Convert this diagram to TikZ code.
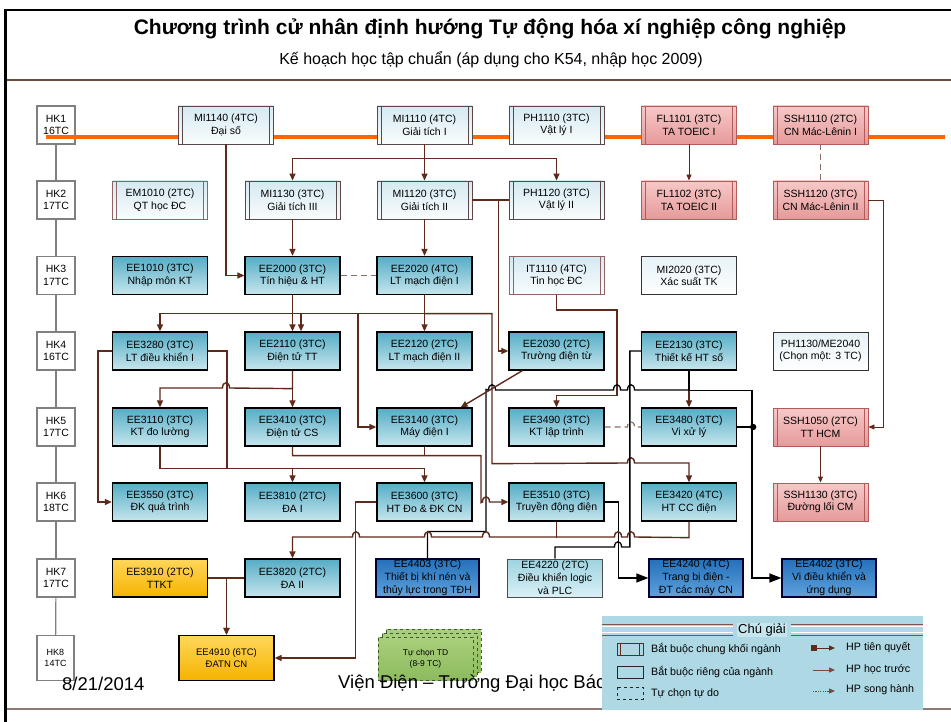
\documentclass[tikz,border=0pt]{standalone}
\usepackage{fontspec}
\setmainfont{Liberation Sans}
\usetikzlibrary{arrows.meta}

\definecolor{conn}{HTML}{5E2A1C}
\definecolor{hkgray}{HTML}{808080}
\definecolor{tline}{HTML}{FF6600}
\definecolor{genline}{HTML}{5A4848}
\definecolor{genline2}{HTML}{8E6464}
\definecolor{gentop}{HTML}{D5E9F1}
\definecolor{genbot}{HTML}{F9FCFD}
\definecolor{redline}{HTML}{B35A5A}
\definecolor{redtop}{HTML}{F7C8C8}
\definecolor{redbot}{HTML}{E69A9A}
\definecolor{eetop}{HTML}{55ADC5}
\definecolor{eebot}{HTML}{C7E6EE}
\definecolor{bluetop}{HTML}{2470BA}
\definecolor{bluebot}{HTML}{5FA2DD}
\definecolor{lighttop}{HTML}{9ED3E0}
\definecolor{lightbot}{HTML}{D9F0F5}
\definecolor{yeltop}{HTML}{FFD75A}
\definecolor{yelbot}{HTML}{F6B300}
\definecolor{grntop}{HTML}{A9CF7C}
\definecolor{grnbot}{HTML}{8DBB5E}
\definecolor{grnline}{HTML}{3C5A28}
\definecolor{legfill}{HTML}{ADD8E4}
\definecolor{legtitle}{HTML}{C6E6EE}
\definecolor{headline}{HTML}{6B4A3F}
\definecolor{footline}{HTML}{8C7B75}
\definecolor{dashline}{HTML}{8C6E66}

% small arch where a horizontal line hops over a vertical one
\newcommand\jumpR[2]{-- ({#1-3.5},#2) .. controls ({#1-3.5},{#2-7}) and ({#1+3.5},{#2-7}) .. ({#1+3.5},#2)}
\newcommand\jumpL[2]{-- ({#1+3.5},#2) .. controls ({#1+3.5},{#2-7}) and ({#1-3.5},{#2-7}) .. ({#1-3.5},#2)}

\tikzset{
  crsbase/.style={minimum width=95pt, minimum height=38pt, inner sep=0pt, align=center,
    font=\fontsize{10.5}{12.5}\selectfont},
  genbox/.style={crsbase, draw=#1, line width=0.9pt, top color=gentop, bottom color=genbot,
    path picture={\draw[#1, line width=0.7pt]
      ([xshift=4pt]path picture bounding box.north west) -- ([xshift=4pt]path picture bounding box.south west)
      ([xshift=-4pt]path picture bounding box.north east) -- ([xshift=-4pt]path picture bounding box.south east);}},
  genbox/.default=genline,
  redbox/.style={genbox=redline, top color=redtop, bottom color=redbot},
  plainbox/.style={crsbase, draw=black!80, line width=0.9pt, top color=gentop!60, bottom color=white},
  eebox/.style={crsbase, draw=black, line width=1.3pt, top color=eetop, bottom color=eebot},
  bluebox/.style={crsbase, draw=black!80!blue, line width=1.2pt, top color=bluetop, bottom color=bluebot,
    font=\fontsize{10.5}{13}\selectfont},
  litebox/.style={crsbase, draw=black!70, line width=0.9pt, top color=lighttop, bottom color=lightbot,
    font=\fontsize{10.5}{13}\selectfont},
  yelbox/.style={crsbase, draw=black, line width=1.3pt, top color=yeltop, bottom color=yelbot},
  tdbox/.style={crsbase, draw=grnline, dashed, line width=1pt, top color=grntop, bottom color=grnbot,
    minimum height=43pt, font=\fontsize{8.5}{11}\selectfont},
  hkbox/.style={minimum width=38pt, minimum height=38pt, inner sep=0pt, align=center, draw=hkgray,
    line width=1.1pt, fill=white, font=\fontsize{10.5}{12.5}\selectfont},
  lnk/.style={draw=conn, line width=1.4pt},
  lnkarr/.style={lnk, -{Triangle[length=7pt,width=6pt]}},
  lnkthin/.style={draw=conn, line width=0.9pt, -{Triangle[length=6pt,width=5pt]}},
  dashlnk/.style={draw=dashline, line width=1.2pt, dash pattern=on 6pt off 4pt},
  blkln/.style={draw=black, line width=1.3pt},
  bigarrow/.style={-{Triangle[length=12pt,width=9pt]}},
  legtxt/.style={anchor=west, font=\fontsize{10.7}{12}\selectfont, inner sep=0pt},
}

\begin{document}
\begin{tikzpicture}[x=1pt,y=-1pt]
\useasboundingbox (0,0) rectangle (951,722);
\fill[white] (0,0) rectangle (951,722);

% slide frame
\draw[black, line width=2.5pt] (4,10) -- (951,10);
\draw[black, line width=3pt] (5.5,8.75) -- (5.5,722);
\draw[headline, line width=2pt] (7,80) -- (951,80);
\draw[footline, line width=1.5pt] (7,709) -- (951,709);

% heading
\node[font=\fontsize{21}{24}\selectfont\bfseries] (title) at (490,29)
  {Chương trình cử nhân định hướng Tự động hóa xí nghiệp công nghiệp};
\node[font=\fontsize{16}{18}\selectfont] (subtitle) at (491,60)
  {Kế hoạch học tập chuẩn (áp dụng cho K54, nhập học 2009)};

% semester column
\foreach \i/\y/\c in {1/125/16,2/200/17,3/275.5/17,4/351/16,5/427/17,6/502/18,7/578/17}
  \node[hkbox] (hk\i) at (56,\y) {HK\i\\\c TC};
\node[hkbox, minimum width=37pt, minimum height=45pt, font=\fontsize{9}{11}\selectfont] (hk8) at (55.5,658) {HK8\\14TC};
\foreach \a/\b in {1/2,2/3,3/4,4/5,5/6,6/7,7/8}
  \draw[hkgray, line width=1.2pt] (hk\a) -- (hk\b);

% first-semester timeline
\coordinate (tl0) at (46,137);
\coordinate (tl1) at (945,137);
\draw[tline, line width=4.5pt] (tl0) -- (tl1);

% semester 1
\node[genbox] (mi1140) at (226,125) {MI1140 (4TC)\\Đại số};
\node[genbox] (mi1110) at (424.5,125) {MI1110 (4TC)\\Giải tích I};
\node[genbox] (ph1110) at (556.5,125) {PH1110 (3TC)\\Vật lý I};
\node[redbox] (fl1101) at (689,125) {FL1101 (3TC)\\TA TOEIC I};
\node[redbox] (ssh1110) at (820.5,125) {SSH1110 (2TC)\\CN Mác-Lênin I};
% semester 2
\node[genbox=genline2] (em1010) at (160,200) {EM1010 (2TC)\\QT học ĐC};
\node[genbox] (mi1130) at (292.5,200) {MI1130 (3TC)\\Giải tích III};
\node[genbox] (mi1120) at (424.5,200) {MI1120 (3TC)\\Giải tích II};
\node[genbox] (ph1120) at (556.5,200) {PH1120 (3TC)\\Vật lý II};
\node[redbox] (fl1102) at (689,200) {FL1102 (3TC)\\TA TOEIC II};
\node[redbox] (ssh1120) at (820.5,200) {SSH1120 (3TC)\\CN Mác-Lênin II};
% semester 3
\node[eebox] (ee1010) at (160,275.5) {EE1010 (3TC)\\Nhập môn KT};
\node[eebox] (ee2000) at (292.5,275.5) {EE2000 (3TC)\\Tín hiệu \& HT};
\node[eebox] (ee2020) at (424.5,275.5) {EE2020 (4TC)\\LT mạch điện I};
\node[genbox=genline2] (it1110) at (556.5,275.5) {IT1110 (4TC)\\Tin học ĐC};
\node[plainbox] (mi2020) at (689,275.5) {MI2020 (3TC)\\Xác suất TK};
% semester 4
\node[eebox] (ee3280) at (160,351) {EE3280 (3TC)\\LT điều khiển I};
\node[eebox] (ee2110) at (292.5,351) {EE2110 (3TC)\\Điện tử TT};
\node[eebox] (ee2120) at (424.5,351) {EE2120 (2TC)\\LT mạch điện II};
\node[eebox] (ee2030) at (556.5,351) {EE2030 (2TC)\\Trường điện từ};
\node[eebox] (ee2130) at (689,351) {EE2130 (3TC)\\Thiết kế HT số};
\node[plainbox] (ph1130) at (820.5,351) {PH1130/ME2040\\(Chọn một: 3 TC)};
% semester 5
\node[eebox] (ee3110) at (160,427) {EE3110 (3TC)\\KT đo lường};
\node[eebox] (ee3410) at (292.5,427) {EE3410 (3TC)\\Điện tử CS};
\node[eebox] (ee3140) at (424.5,427) {EE3140 (3TC)\\Máy điện I};
\node[eebox] (ee3490) at (556.5,427) {EE3490 (3TC)\\KT lập trình};
\node[eebox] (ee3480) at (689,427) {EE3480 (3TC)\\Vi xử lý};
\node[redbox] (ssh1050) at (820.5,427) {SSH1050 (2TC)\\TT HCM};
% semester 6
\node[eebox] (ee3550) at (160,502) {EE3550 (3TC)\\ĐK quá trình};
\node[eebox] (ee3810) at (292.5,502) {EE3810 (2TC)\\ĐA I};
\node[eebox] (ee3600) at (424.5,502) {EE3600 (3TC)\\HT Đo \& ĐK CN};
\node[eebox] (ee3510) at (556.5,502) {EE3510 (3TC)\\Truyền động điện};
\node[eebox] (ee3420) at (689,502) {EE3420 (4TC)\\HT CC điện};
\node[redbox] (ssh1130) at (820.5,502) {SSH1130 (3TC)\\Đường lối CM};
% semester 7
\node[yelbox] (ee3910) at (160,578) {EE3910 (2TC)\\TTKT};
\node[eebox] (ee3820) at (292.5,578) {EE3820 (2TC)\\ĐA II};
\node[bluebox, minimum width=103pt] (ee4403) at (427.5,578) {EE4403 (3TC)\\Thiết bị khí nén và\\thủy lực trong TĐH};
\node[litebox] (ee4220) at (555,578) {EE4220 (2TC)\\Điều khiển logic\\và PLC};
\node[bluebox, minimum width=94pt] (ee4240) at (696,578) {EE4240 (4TC)\\Trang bị điện -\\ĐT các máy CN};
\node[bluebox, minimum width=94pt] (ee4402) at (829,578) {EE4402 (3TC)\\Vi điều khiển và\\ứng dụng};
% semester 8
\node[yelbox, minimum height=45pt, font=\fontsize{9.5}{12}\selectfont] (ee4910) at (226.5,658) {EE4910 (6TC)\\ĐATN CN};
\node[tdbox] (td3) at (433.5,650.5) {};
\node[tdbox] (td2) at (429.5,654.5) {};
\node[tdbox] (td) at (425.5,658.5) {Tự chọn TD\\(8-9 TC)};

% ---- links: semesters 1-2
\draw[lnk] (mi1110.south) -- ++(0,14) coordinate (bus1);
\draw[lnkarr] (bus1) -| (mi1130.north);
\draw[lnkarr] (bus1) -| (ph1120.north);
\draw[lnkarr] (bus1) -- (mi1120.north);
\draw[lnkthin] (fl1101) -- (fl1102);
\draw[dashlnk] (ssh1110) -- (ssh1120);

% ---- links: semesters 2-3
\draw[lnkarr] (mi1140.south) |- (ee2000.west);
\draw[lnkarr] (mi1130) -- (ee2000);
\draw[lnkarr] (mi1120) -- (ee2020);
\draw[lnk] (mi1120.east) -- (ph1120.west);
\draw[lnkarr] ([xshift=26pt]mi1120.east) |- (ee2030.west);
\draw[lnkthin] (ssh1120.east) -- ++(15,0) |- (ssh1050.east);

% ---- links: semesters 3-4
\draw[dashlnk] (ee2000) -- (ee2020);
\draw[lnkarr] (ee2000) -- (ee2110);
\draw[lnkarr] (ee2000.south) -- ++(0,18.5) -| (ee3280.north);
\draw[lnkarr] (ee2020) -- (ee2120);
\draw[lnk] (ee2020.south) ++(0,18.5) -- ++(-132,0);
\draw[lnkarr] (ee2020.south) ++(-123.5,18.5) -- ([xshift=8.5pt]ee2110.north);
\draw[lnkarr] (ee2020.south) ++(0,18.5) -- ++(67.5,0) -- ++(0,150) \jumpR{631}{463} -| (ee3420.north);
\draw[lnkarr] (ee2020.south) ++(-66.5,18.5) |- (ee3140.west);
\draw[lnkarr] (it1110.south) -- ++(0,15) -- ++(60.5,0) -- ++(0,85.5) -| (ee3490.north);

% ---- black links
\draw[blkln] (ee2130.west) -- ++(-11,0) -- ++(0,196) \jumpL{618}{547} -| (ee4220.north);
\draw[blkln] (ee4403.north) -- ++(0,-27) -- ++(58.5,0) -- ++(0,-142)
  \jumpR{492}{390} \jumpR{617}{390} \jumpR{631}{390} -| (ee2130.south);
\draw[blkln, bigarrow] (ee2130.south) -- ++(0,20) -- ++(63,0) |- (ee4402.west);
\draw[blkln] (ee3480.east) -- ++(16,0) coordinate (dot);
\fill (dot) circle (3.2pt);
\draw[blkln, bigarrow] (ee3510.east) -- ++(14,0) |- (ee4240.west);

% ---- links: semesters 4-5
\draw[lnkarr] (ee2110) -- (ee3410);
\draw[lnkarr] (ee2110.south) -- ++(0,18) \jumpL{226}{388} -| (ee3110.north);
\draw[lnkarr] (ee3280.west) -- ++(-14,0) |- (ee3550.west);
\draw[lnk] (ee3280.east) -- ++(19,0) -- ++(0,117);
\draw[lnkarr] ([xshift=14pt]ee2030.south west) -- ([xshift=-12pt]ee3140.north east);
\draw[lnkarr] (ee2130.south) ++(0,20) -- (ee3480.north);
\draw[dashlnk] (ee3490.east) \jumpR{631}{427} -- (ee3480.west);
\draw[lnkthin] (ssh1050) -- (ssh1130);

% ---- links: semesters 5-6
\draw[lnkarr] (ee3110.south) -- ++(0,22) -| (ee3810.north);
\draw[lnkarr] (ee3110.south) -- ++(0,22) -| (ee3600.north);
\draw[lnkarr] (ee3410.south) -- ++(0,9) -- ++(188.5,0) -- ++(0,47) \jumpR{486}{502} -- (ee3510.west);
\draw[lnk] (ee3140.south) -- ++(0,9);

% ---- links: semesters 6-8
\draw[lnkarr] (ee3420.south) -- ++(0,16) \jumpL{631}{537} \jumpL{618}{537} \jumpL{486}{537}
  \jumpL{428}{537} \jumpL{356}{537} -| (ee3820.north);
\draw[lnk] (ee3510.south) -- ++(0,16);
\draw[lnkarr] (ee3600.west) -- ++(-21,0) |- (ee4910.east);
\draw[lnkarr] (ee3910.east) -| (ee4910.north);
\draw[lnkarr] (ee3820.west) -| (ee4910.north);

% footer
\node[anchor=west, inner sep=0pt, font=\fontsize{18.5}{20}\selectfont] (date) at (62,684) {8/21/2014};
\node[anchor=west, inner sep=0pt, font=\fontsize{18.5}{20}\selectfont] (inst) at (338,684) {Viện Điện – Trường Đại học Bác};

% legend
\node[fill=legfill, minimum width=321pt, minimum height=94pt, inner sep=0pt] (legend) at (762.5,663) {};
\draw[conn!80, line width=1pt] (602,624.5) -- (733,624.5) (791,624.5) -- (923,624.5)
  (602,635) -- (733,635) (791,635) -- (923,635);
\draw[white, line width=1pt] (602,626.8) -- (733,626.8) (791,626.8) -- (923,626.8)
  (602,632.8) -- (733,632.8) (791,632.8) -- (923,632.8);
\node[fill=legtitle, inner sep=1pt, minimum height=14pt, font=\fontsize{13}{15}\selectfont] (legtitle) at (762,630) {Chú giải};
\draw[conn, line width=0.8pt] (617,643) rectangle (643,655) (620.5,643) -- (620.5,655) (639.5,643) -- (639.5,655);
\draw[black!85, line width=0.9pt] (617,666) rectangle (643,678);
\draw[black!85, line width=0.8pt, dashed] (617,687) rectangle (643,699);
\node[legtxt] (lg1) at (651,649) {Bắt buộc chung khối ngành};
\node[legtxt] (lg2) at (651,672) {Bắt buộc riêng của ngành};
\node[legtxt] (lg3) at (651,693) {Tự chọn tự do};
\coordinate (la0) at (817,648); \coordinate (la1) at (835,648);
\fill[conn] (810.5,645) rectangle (817,651);
\draw[conn, line width=1pt, -{Triangle[length=6pt,width=5pt]}] (la0) -- (la1);
\coordinate (lb0) at (813,670); \coordinate (lb1) at (835,670);
\draw[conn!85, line width=1pt, -{Triangle[length=6pt,width=5pt]}] (lb0) -- (lb1);
\coordinate (lc0) at (813,691); \coordinate (lc1) at (835,691);
\draw[conn!85, line width=1pt, dash pattern=on 1.2pt off 1.2pt, -{Triangle[length=6pt,width=5pt]}] (lc0) -- (lc1);
\node[legtxt] (lg4) at (846,647) {HP tiên quyết};
\node[legtxt] (lg5) at (846,669) {HP học trước};
\node[legtxt] (lg6) at (846,690) {HP song hành};
\end{tikzpicture}
\end{document}
